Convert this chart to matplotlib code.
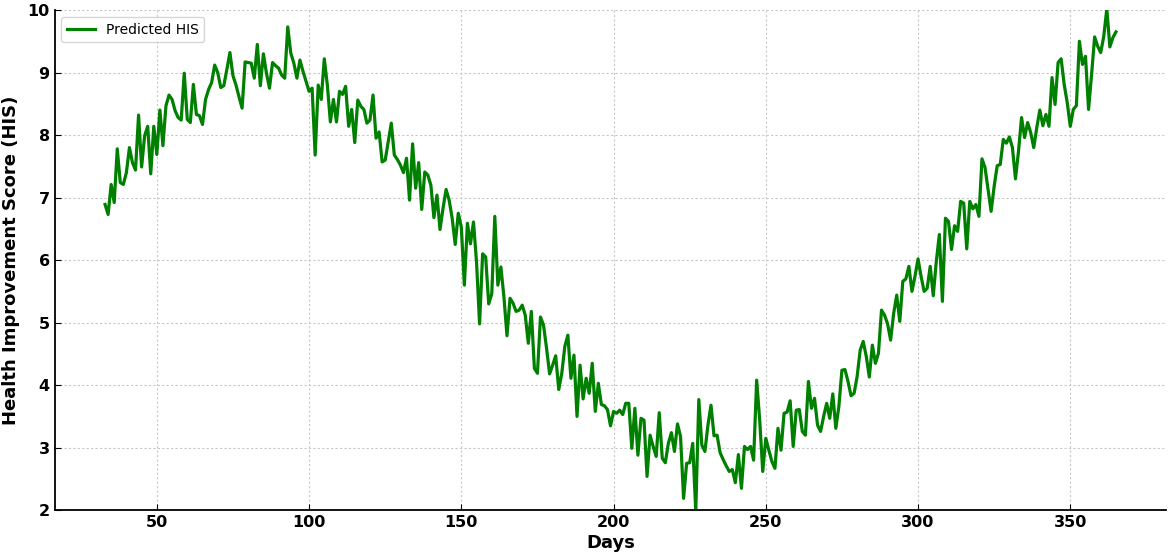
import numpy as np
import matplotlib.pyplot as plt

# predicted health improvement score, one value per day
first_day = 33
his_values = [
    6.89, 6.73, 7.21, 6.92, 7.78, 7.24, 7.21, 7.40,
    7.80, 7.56, 7.44, 8.32, 7.49, 7.99, 8.14, 7.38, 8.14, 7.69,
    8.40, 7.83, 8.47, 8.64, 8.57, 8.39, 8.28, 8.24, 8.99, 8.25,
    8.20, 8.81, 8.33, 8.31, 8.17, 8.57, 8.73, 8.84, 9.12, 9.00,
    8.76, 8.79, 9.05, 9.32, 8.95, 8.80, 8.61, 8.43, 9.17, 9.16,
    9.15, 8.91, 9.45, 8.79, 9.30, 8.99, 8.75, 9.16, 9.11, 9.07,
    8.96, 8.91, 9.73, 9.31, 9.15, 8.91, 9.20, 9.02, 8.86, 8.70,
    8.75, 7.68, 8.80, 8.57, 9.22, 8.80, 8.21, 8.57, 8.21, 8.70,
    8.65, 8.78, 8.14, 8.41, 7.88, 8.56, 8.46, 8.41, 8.19, 8.24,
    8.64, 7.95, 8.05, 7.57, 7.60, 7.89, 8.19, 7.68, 7.61, 7.52,
    7.40, 7.63, 6.96, 7.86, 7.15, 7.56, 6.81, 7.41, 7.36, 7.20,
    6.68, 7.04, 6.49, 6.83, 7.13, 6.96, 6.67, 6.25, 6.75, 6.53,
    5.60, 6.59, 6.26, 6.61, 5.97, 4.98, 6.10, 6.05, 5.30, 5.46,
    6.70, 5.60, 5.89, 5.41, 4.79, 5.39, 5.31, 5.18, 5.20, 5.28,
    5.12, 4.67, 5.18, 4.27, 4.19, 5.09, 4.96, 4.59, 4.18, 4.32,
    4.47, 3.93, 4.19, 4.62, 4.80, 4.11, 4.48, 3.50, 4.32, 3.78,
    4.11, 3.87, 4.35, 3.58, 4.03, 3.69, 3.67, 3.61, 3.35, 3.58,
    3.55, 3.60, 3.53, 3.71, 3.71, 2.99, 3.63, 2.88, 3.47, 3.44,
    2.54, 3.20, 3.02, 2.86, 3.56, 2.83, 2.76, 3.07, 3.24, 2.94,
    3.38, 3.18, 2.19, 2.75, 2.76, 3.07, 1.98, 3.77, 3.04, 2.94,
    3.36, 3.68, 3.19, 3.20, 2.92, 2.81, 2.71, 2.62, 2.65, 2.44,
    2.89, 2.35, 3.02, 2.97, 3.02, 2.80, 4.08, 3.44, 2.62, 3.15,
    2.96, 2.78, 2.67, 3.31, 2.96, 3.55, 3.57, 3.75, 3.02, 3.60,
    3.61, 3.26, 3.20, 4.06, 3.63, 3.79, 3.36, 3.26, 3.50, 3.71,
    3.47, 3.86, 3.31, 3.66, 4.24, 4.25, 4.06, 3.83, 3.87, 4.14,
    4.56, 4.70, 4.46, 4.13, 4.64, 4.35, 4.51, 5.20, 5.12, 4.98,
    4.72, 5.15, 5.44, 5.02, 5.66, 5.70, 5.90, 5.50, 5.74, 6.02,
    5.74, 5.50, 5.55, 5.90, 5.43, 5.98, 6.41, 5.34, 6.67, 6.62,
    6.17, 6.55, 6.46, 6.94, 6.91, 6.18, 6.94, 6.82, 6.89, 6.70,
    7.62, 7.48, 7.13, 6.78, 7.18, 7.51, 7.53, 7.93, 7.87, 7.97,
    7.80, 7.30, 7.74, 8.28, 7.96, 8.20, 8.04, 7.80, 8.12, 8.40,
    8.15, 8.33, 8.14, 8.92, 8.49, 9.16, 9.22, 8.81, 8.52, 8.14,
    8.41, 8.47, 9.50, 9.13, 9.26, 8.41, 8.97, 9.57, 9.42, 9.32,
    9.58, 10.02, 9.41, 9.56, 9.65,
]
days = np.arange(first_day, first_day + len(his_values))

fig, ax = plt.subplots(figsize=(11.7, 5.57), dpi=100)
fig.subplots_adjust(left=0.0466, right=0.997, bottom=0.084, top=0.982)

ax.plot(days, his_values, color='green', linewidth=2.3, label='Predicted HIS')

ax.set_ylim(2, 10)
ax.set_xlabel('Days', fontsize=13, fontweight='bold', labelpad=3)
ax.set_ylabel('Health Improvement Score (HIS)', fontsize=13, fontweight='bold', labelpad=5)

ax.grid(True, linestyle=(0, (2, 2)), color='#c8c8c8', linewidth=0.8)
ax.set_axisbelow(True)
ax.tick_params(direction='in', length=4, labelsize=11.5)
for lbl in ax.get_xticklabels() + ax.get_yticklabels():
    lbl.set_fontweight('bold')

ax.spines['top'].set_visible(False)
ax.spines['right'].set_visible(False)
ax.spines['left'].set_linewidth(1.3)
ax.spines['bottom'].set_linewidth(1.3)

ax.legend(loc='upper left', fontsize=10, borderaxespad=0.5)

fig.savefig('out.png', dpi=100)
